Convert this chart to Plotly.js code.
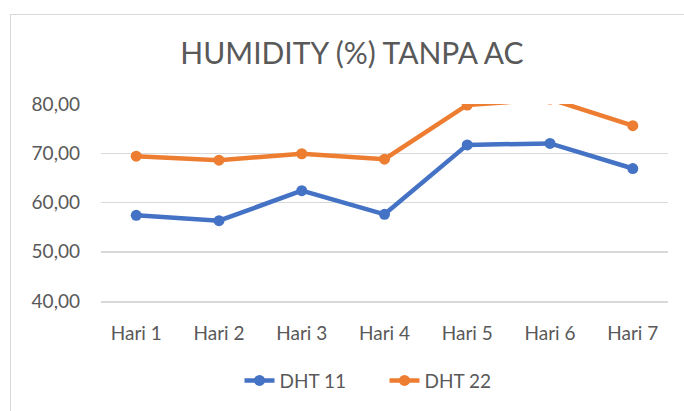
<!DOCTYPE html>
<html><head><meta charset="utf-8">
<script src="https://cdn.plot.ly/plotly-3.0.1.min.js"></script>
<style>
html,body{margin:0;padding:0;overflow:hidden;background:#fff;width:684px;height:411px;}
#chart{position:absolute;left:0;top:0;width:684px;height:411px;}
#frame{position:absolute;left:10px;top:14px;width:700px;height:420px;border:1px solid #d9d9d9;pointer-events:none;}
</style></head>
<body>
<div id="chart"></div>
<div id="frame"></div>
<script>
const categories = ["Hari 1","Hari 2","Hari 3","Hari 4","Hari 5","Hari 6","Hari 7"];
const dht11 = [57.4, 56.3, 62.4, 57.6, 71.7, 72.0, 66.9];
const dht22 = [69.4, 68.6, 69.9, 68.8, 79.8, 81.0, 75.6];
const yTicks = [40, 50, 60, 70, 80];

const font = "Lato, 'Open Sans', sans-serif";
const traces = [
  {x: categories, y: dht11, name: "DHT 11", type: "scatter", mode: "lines+markers",
   line: {color: "#4472C4", width: 4.5}, marker: {color: "#4472C4", size: 11}},
  {x: categories, y: dht22, name: "DHT 22", type: "scatter", mode: "lines+markers",
   line: {color: "#ED7D31", width: 4.5}, marker: {color: "#ED7D31", size: 11}}
];
const layout = {
  width: 684, height: 411,
  margin: {l: 101, r: 16, t: 104, b: 110},
  paper_bgcolor: "#fff", plot_bgcolor: "#fff",
  separators: ",.",
  title: {text: "HUMIDITY (%) TANPA AC", font: {family: font, size: 30, color: "#595959"},
          x: 0.5146, xanchor: "center", y: 0.869, yanchor: "middle"},
  xaxis: {type: "category", showgrid: false, zeroline: false,
          showline: true, linecolor: "#d9d9d9", linewidth: 1.5,
          ticks: "", tickfont: {family: font, size: 19, color: "#595959"},
          ticklabelstandoff: 15},
  yaxis: {range: [40, 80], tickvals: yTicks, tickformat: ".2f", showgrid: true,
          gridcolor: "#d9d9d9", gridwidth: 1.5, zeroline: false, showline: false,
          ticks: "", tickfont: {family: font, size: 19, color: "#595959"},
          ticklabelstandoff: 20},
  showlegend: true,
  legend: {orientation: "h", x: 0.5, xanchor: "center", y: -0.404, yanchor: "middle",
           entrywidth: 100,
           font: {family: font, size: 19, color: "#595959"}}
};
Plotly.newPlot("chart", traces, layout, {displayModeBar: false, staticPlot: true});
</script>
</body></html>
